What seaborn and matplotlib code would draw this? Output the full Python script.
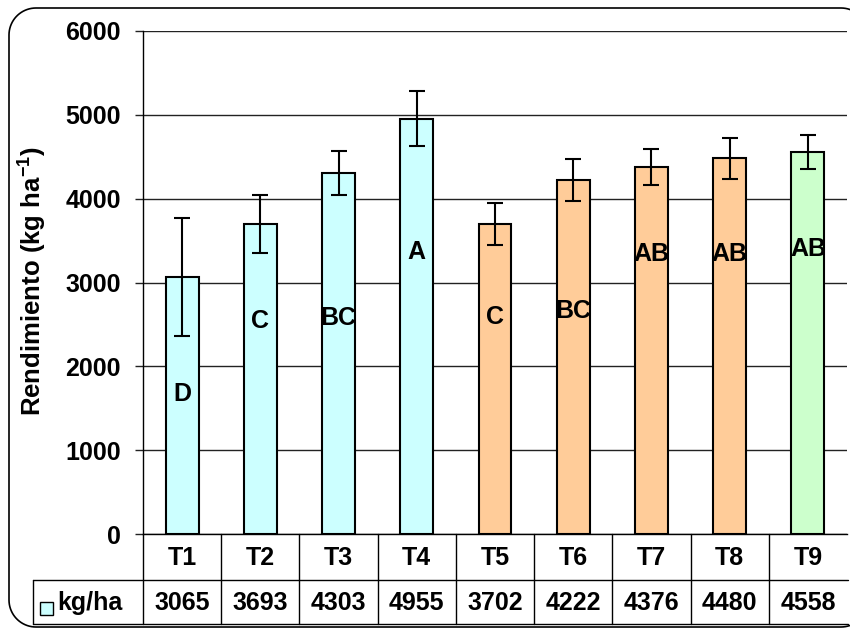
import matplotlib
matplotlib.use("Agg")
import matplotlib.pyplot as plt
from matplotlib.patches import Rectangle
from matplotlib.lines import Line2D
import numpy as np
import seaborn as sns
import pandas as pd

# Treatments, mean yield, standard error and grouping letters
treatments = ["T1", "T2", "T3", "T4", "T5", "T6", "T7", "T8", "T9"]
yield_kg_ha = [3065, 3693, 4303, 4955, 3702, 4222, 4376, 4480, 4558]
yield_err = [700, 345, 260, 330, 250, 250, 215, 240, 205]
letters = ["D", "C", "BC", "A", "C", "BC", "AB", "AB", "AB"]
letter_y = [1670, 2545, 2580, 3360, 2590, 2660, 3345, 3345, 3400]
bar_colors = ["#CCFFFF"] * 4 + ["#FFCC99"] * 4 + ["#CCFFCC"]
y_ticks = [0, 1000, 2000, 3000, 4000, 5000, 6000]
legend_label = "kg/ha"
y_label = "Rendimiento (kg ha$^{\\mathbf{-1}}$)"

sns.set_theme(style="white")
plt.rcParams["font.family"] = ["Liberation Sans", "DejaVu Sans"]
plt.rcParams["font.weight"] = "bold"
plt.rcParams["text.color"] = "black"
plt.rcParams["axes.labelcolor"] = "black"
plt.rcParams["ytick.color"] = "black"
plt.rcParams["xtick.color"] = "black"
plt.rcParams["mathtext.fontset"] = "custom"
plt.rcParams["mathtext.rm"] = "Liberation Sans:bold"
plt.rcParams["mathtext.bf"] = "Liberation Sans:bold"

FS = 18
W, H = 850, 630
fig = plt.figure(figsize=(W / 100, H / 100), dpi=100)
fig.patch.set_facecolor("white")

def fx(px):
    return px / W

def fy(py):
    return 1 - py / H

# Plot area in pixel terms
x0, x1, ytop, ybot = 143, 847, 31, 534
ax = fig.add_axes([fx(x0), fy(ybot), fx(x1 - x0), (ybot - ytop) / H])

df = pd.DataFrame({"trat": treatments, "rend": yield_kg_ha})
sns.barplot(data=df, x="trat", y="rend", hue="trat", palette=bar_colors,
            legend=False, width=0.42, edgecolor="black", linewidth=1.5,
            saturation=1, ax=ax, zorder=3)
ax.errorbar(range(len(treatments)), yield_kg_ha, yerr=yield_err, fmt="none",
            ecolor="black", elinewidth=1.5, capsize=5.8, capthick=1.5,
            zorder=4)

for i, (lab, ly) in enumerate(zip(letters, letter_y)):
    ax.text(i, ly, lab, ha="center", va="center", fontsize=FS,
            fontweight="bold", color="black", zorder=5)

ax.set_xlim(-0.5, len(treatments) - 0.5)
ax.set_ylim(0, 6000)
ax.set_yticks(y_ticks)
ax.set_yticklabels([str(t) for t in y_ticks], fontsize=FS, fontweight="bold",
                   color="black")
ax.set_xticks([])
ax.set_xlabel("")
ax.set_ylabel("")
ax.grid(axis="y", color="#222222", linewidth=1.0, zorder=0)
ax.set_axisbelow(True)
ax.tick_params(axis="y", length=5.8, width=1.0, color="#222222", pad=10,
               left=True)
for side in ["top", "right"]:
    ax.spines[side].set_visible(False)
ax.spines["left"].set_color("black")
ax.spines["left"].set_linewidth(1.0)
ax.spines["bottom"].set_color("black")
ax.spines["bottom"].set_linewidth(1.0)

fig.text(fx(32), fy(281), y_label, rotation=90, ha="center", va="center",
         fontsize=18.5, fontweight="bold", color="black")

# Data table beneath the plot area
row1_bot, row2_bot, tab_left = 580, 624, 33
cat_w = (x1 - x0) / len(treatments)
lw = 1.0
lines = [
    ((tab_left, x1 + 1), (row1_bot, row1_bot)),
    ((tab_left, x1 + 1), (row2_bot, row2_bot)),
    ((tab_left, tab_left), (row1_bot, row2_bot)),
    ((x0, x0), (ybot, row2_bot)),
]
for k in range(1, len(treatments)):
    xx = x0 + k * cat_w
    lines.append(((xx, xx), (ybot, row2_bot)))
for (xs, ys) in lines:
    fig.add_artist(Line2D([fx(xs[0]), fx(xs[1])], [fy(ys[0]), fy(ys[1])],
                          color="black", linewidth=lw))

for k, (t, v) in enumerate(zip(treatments, yield_kg_ha)):
    cx = x0 + (k + 0.5) * cat_w
    fig.text(fx(cx), fy((ybot + row1_bot) / 2 + 1), t, ha="center",
             va="center", fontsize=FS, fontweight="bold", color="black")
    fig.text(fx(cx), fy((row1_bot + row2_bot) / 2 + 1), str(v), ha="center",
             va="center", fontsize=FS, fontweight="bold", color="black")

fig.add_artist(Rectangle((fx(40), fy(615)), fx(13), 13 / H,
                         facecolor=bar_colors[0], edgecolor="black",
                         linewidth=1.0))
fig.text(fx(57), fy(603), legend_label, ha="left", va="center",
         fontsize=FS, fontweight="bold", color="black")

# Rounded frame around the chart; its right side runs past the canvas
fl, fr, ft, fb, rad = 9, 868, 8, 627, 27

def corner(cx, cy, a0, a1):
    t = np.linspace(np.radians(a0), np.radians(a1), 20)
    return cx + rad * np.cos(t), cy - rad * np.sin(t)

px, py = [], []
for cxy, angs in [((fr - rad, ft + rad), (0, 90)),
                  ((fl + rad, ft + rad), (90, 180)),
                  ((fl + rad, fb - rad), (180, 270)),
                  ((fr - rad, fb - rad), (270, 360))]:
    xs, ys = corner(cxy[0], cxy[1], *angs)
    px.extend(xs)
    py.extend(ys)
px.append(px[0])
py.append(py[0])
fig.add_artist(Line2D([fx(v) for v in px], [fy(v) for v in py],
                      color="black", linewidth=1.2))

fig.savefig("out.png", dpi=100)
